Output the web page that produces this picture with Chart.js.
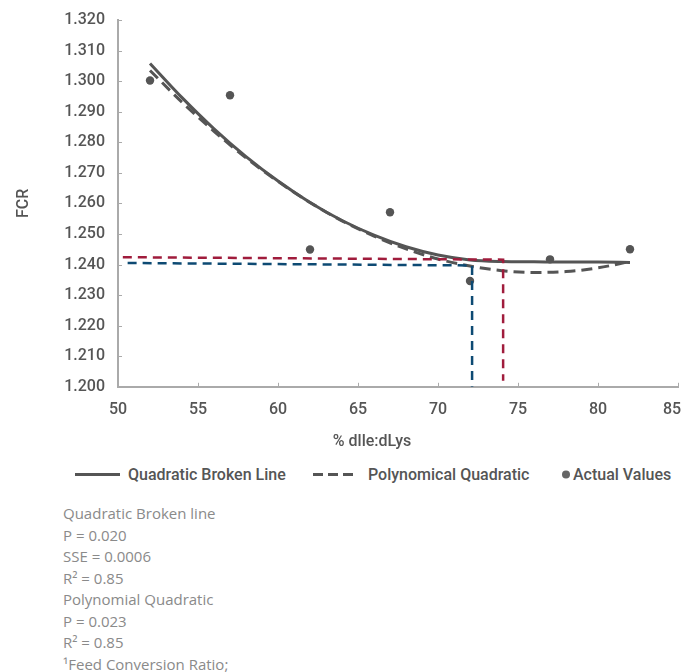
<!DOCTYPE html>
<html>
<head>
<meta charset="utf-8">
<script src="https://cdn.jsdelivr.net/npm/chart.js@4.4.1/dist/chart.umd.min.js"></script>
<style>
  body { margin: 0; background: #fff; width: 684px; height: 672px; position: relative; overflow: hidden; }
  #wrap { position: absolute; left: 0; top: 0; width: 684px; height: 438px; }
  .lab { position: absolute; font-family: Roboto, sans-serif; font-weight: 500; color: #555; white-space: nowrap; }
  #xtitle { left: 0; width: 744px; top: 431px; text-align: center; font-size: 16px; }
  #legend { top: 465px; font-size: 16px; line-height: 19px; }
  #legend svg { position: absolute; top: 0; }
  #notes { position: absolute; left: 63px; top: 503px; font-family: "Open Sans", sans-serif; font-size: 15px; line-height: 21.5px; color: #8a8a8a; }
</style>
</head>
<body>
<div id="wrap"><canvas id="myChart"></canvas></div>
<div id="xtitle" class="lab">% dlle:dLys</div>
<div id="legend" class="lab" style="left:0;width:684px;height:20px;">
  <svg style="left:75px" width="45" height="20"><line x1="0" y1="9.5" x2="45" y2="9.5" stroke="#555" stroke-width="3"/></svg>
  <span style="position:absolute;left:128px;">Quadratic Broken Line</span>
  <svg style="left:313px" width="45" height="20"><line x1="0" y1="9.5" x2="45" y2="9.5" stroke="#555" stroke-width="3" stroke-dasharray="10 5"/></svg>
  <span style="position:absolute;left:368px;">Polynomical Quadratic</span>
  <svg style="left:561px" width="10" height="20"><circle cx="5" cy="9.5" r="4" fill="#666"/></svg>
  <span style="position:absolute;left:573px;">Actual Values</span>
</div>
<div id="notes">
  Quadratic Broken line<br>
  P = 0.020<br>
  SSE = 0.0006<br>
  R² = 0.85<br>
  Polynomial Quadratic<br>
  P = 0.023<br>
  R² = 0.85<br>
  ¹Feed Conversion Ratio;
</div>
<script>
let actualX = [52, 57, 62, 67, 72, 77, 82];
let actualY = [1.3002, 1.2954, 1.2449, 1.2571, 1.2346, 1.2417, 1.2450];

let fitX = [52, 54, 56, 58, 60, 62, 64, 66, 68, 70, 72, 74, 76, 78, 80, 82];
let brokenY = [1.3058, 1.2946, 1.2844, 1.2753, 1.2673, 1.2603, 1.2544, 1.2496, 1.2458, 1.2431, 1.2415, 1.2410, 1.2409, 1.2408, 1.2408, 1.2407];
let polyY = [1.3035, 1.2931, 1.2836, 1.2749, 1.2672, 1.2603, 1.2543, 1.2493, 1.2451, 1.2418, 1.2395, 1.2380, 1.2374, 1.2377, 1.2389, 1.2410];

// optimum markers (dashed guides)
let redX = [50.3, 74.07, 74.07];
let redY = [1.2424, 1.2416, 1.2020];
let blueX = [50.6, 72.13, 72.13];
let blueY = [1.2405, 1.2397, 1.2000];

let xTicks = [50, 55, 60, 65, 70, 75, 80, 85];

const pts = (xs, ys) => xs.map((x, i) => ({ x: x, y: ys[i] }));

// small tick marks pointing into the plot, like the original
const innerTicks = {
  id: 'innerTicks',
  afterDraw(chart) {
    const { ctx, chartArea, scales } = chart;
    ctx.save();
    ctx.strokeStyle = '#aaaaaa';
    ctx.lineWidth = 1;
    ctx.beginPath();
    scales.x.ticks.forEach(t => {
      const px = Math.round(scales.x.getPixelForValue(t.value)) + 0.5;
      ctx.moveTo(px, chartArea.bottom);
      ctx.lineTo(px, chartArea.bottom - 4);
    });
    scales.y.ticks.forEach(t => {
      const py = Math.round(scales.y.getPixelForValue(t.value)) + 0.5;
      ctx.moveTo(chartArea.left, py);
      ctx.lineTo(chartArea.left + 4, py);
    });
    ctx.stroke();
    ctx.restore();
  }
};

let ctx = document.getElementById('myChart').getContext('2d');

let myChart = new Chart(ctx, {
  type: 'line',
  data: {
    datasets: [{
      label: 'Red guide',
      data: pts(redX, redY),
      borderColor: '#a01c3c',
      borderWidth: 2.5,
      borderDash: [9, 6],
      pointRadius: 0,
      tension: 0
    }, {
      label: 'Blue guide',
      data: pts(blueX, blueY),
      borderColor: '#0d4a73',
      borderWidth: 2.5,
      borderDash: [9, 6],
      pointRadius: 0,
      tension: 0
    }, {
      label: 'Polynomical Quadratic',
      data: pts(fitX, polyY),
      borderColor: '#555555',
      borderWidth: 3,
      borderDash: [11, 6],
      pointRadius: 0,
      cubicInterpolationMode: 'monotone'
    }, {
      label: 'Quadratic Broken Line',
      data: pts(fitX, brokenY),
      borderColor: '#555555',
      borderWidth: 3,
      pointRadius: 0,
      cubicInterpolationMode: 'monotone'
    }, {
      label: 'Actual Values',
      data: pts(actualX, actualY),
      showLine: false,
      pointRadius: 4.2,
      pointBackgroundColor: '#555555',
      pointBorderWidth: 0
    }]
  },
  options: {
    responsive: true,
    maintainAspectRatio: false,
    animation: false,
    layout: {
      padding: { top: 20, right: 0, left: 10.5, bottom: 4 }
    },
    plugins: {
      legend: { display: false },
      tooltip: { enabled: false }
    },
    scales: {
      x: {
        type: 'linear',
        min: 50,
        max: 85,
        afterBuildTicks: (axis) => {
          axis.ticks = xTicks.map(v => ({ value: v }));
        },
        afterFit: (s) => {
          s.paddingRight = 6;
          s.paddingLeft = 10;
        },
        grid: { drawOnChartArea: false, drawTicks: false },
        border: { color: '#aaaaaa', width: 2 },
        ticks: {
          color: '#555',
          padding: 14,
          maxRotation: 0,
          font: { family: 'Roboto', weight: '500', size: 16 },
          // last label sits a little left of its tick, as in the original
          callback: (v) => v === 85 ? '85   ' : String(v)
        }
      },
      y: {
        min: 1.2,
        max: 1.32,
        afterFit: (s) => {
          s.paddingTop = 10;
          s.paddingBottom = 10;
        },
        ticks: {
          stepSize: 0.01,
          color: '#555',
          padding: 13,
          font: { family: 'Roboto', weight: '500', size: 16 },
          callback: (v) => v.toFixed(3)
        },
        grid: { drawOnChartArea: false, drawTicks: false },
        border: { color: '#aaaaaa', width: 2 },
        title: {
          display: true,
          text: 'FCR',
          color: '#555',
          padding: { top: 4, bottom: 17.5 },
          font: { family: 'Roboto', weight: '500', size: 16 }
        }
      }
    }
  },
  plugins: [innerTicks]
})
</script>
</body>
</html>
